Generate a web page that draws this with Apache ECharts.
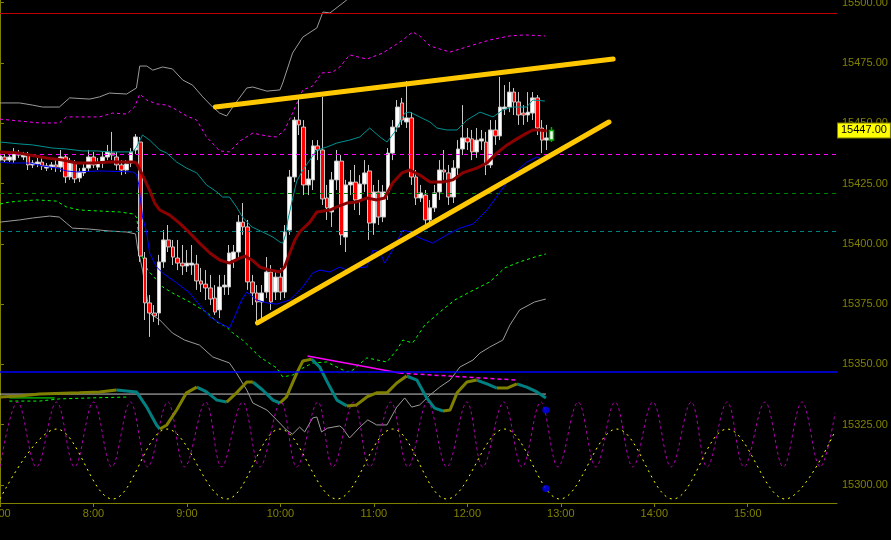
<!DOCTYPE html>
<html><head><meta charset="utf-8">
<script src="https://cdn.jsdelivr.net/npm/echarts@6.0.0/dist/echarts.min.js"></script>
<style>html,body{margin:0;padding:0;background:#000;}#c{width:891px;height:540px;}</style>
</head><body><div id="c"></div>
<script>
// x values are 3-minute bar indices counted from 7:00
const hourTicks = [0, 20, 40, 60, 80, 100, 120, 140, 160];
const hourLabels = ['7:00', '8:00', '9:00', '10:00', '11:00', '12:00', '13:00', '14:00', '15:00'];
const priceTicks = [15300, 15325, 15350, 15375, 15400, 15425, 15450, 15475, 15500];

// [open, close, low, high] for each 3-minute bar from 7:00
const ohlc = [
[15434.7,15436.4,15433.5,15437.6],[15436.0,15434.7,15433.5,15437.2],[15434.7,15436.0,15433.9,15437.6],[15434.7,15437.6,15433.5,15439.7],
[15437.6,15436.8,15435.6,15438.9],[15436.0,15436.8,15434.7,15438.1],[15436.8,15432.7,15430.6,15438.1],[15432.7,15433.5,15431.4,15434.7],
[15433.1,15433.9,15431.8,15435.6],[15433.9,15432.3,15430.6,15436.0],[15431.4,15432.3,15430.2,15433.5],[15431.8,15432.7,15430.6,15433.9],
[15432.7,15431.8,15429.8,15434.7],[15431.8,15436.0,15429.8,15438.9],[15436.0,15427.7,15425.2,15437.2],[15427.7,15433.5,15426.5,15435.6],
[15433.5,15426.9,15425.2,15434.7],[15427.3,15429.8,15425.6,15431.4],[15429.4,15431.4,15428.1,15433.5],[15431.4,15436.0,15429.8,15438.9],
[15436.0,15432.7,15431.4,15438.1],[15431.8,15433.5,15430.6,15435.6],[15433.5,15436.0,15431.4,15438.1],[15436.0,15438.1,15434.7,15441.0],
[15437.6,15436.8,15434.7,15446.4],[15436.0,15432.7,15430.6,15438.1],[15432.7,15430.6,15428.5,15434.7],[15430.6,15433.1,15428.9,15434.7],
[15433.5,15438.1,15431.8,15439.7],[15438.9,15444.3,15437.2,15445.5],[15442.2,15394.9,15392.5,15444.3],[15394.1,15375.5,15368.4,15396.6],
[15375.5,15371.3,15361.4,15378.8],[15371.3,15370.1,15367.6,15374.6],[15371.3,15392.5,15366.3,15395.4],[15392.5,15401.6,15390.0,15405.7],
[15401.6,15398.7,15396.6,15407.8],[15398.7,15394.5,15391.2,15401.6],[15394.1,15392.0,15389.1,15401.6],[15392.0,15390.8,15387.1,15399.5],
[15390.8,15392.0,15388.3,15397.4],[15391.2,15392.0,15387.1,15399.5],[15391.6,15384.6,15380.9,15395.4],[15384.6,15383.3,15380.0,15390.0],
[15383.3,15381.7,15376.7,15389.1],[15381.7,15377.1,15374.6,15387.1],[15377.5,15371.7,15370.5,15382.9],[15372.6,15382.1,15369.2,15387.1],
[15382.1,15382.9,15378.8,15387.1],[15382.1,15396.2,15378.8,15399.5],[15393.3,15396.6,15390.0,15399.5],[15396.6,15409.0,15394.1,15411.9],
[15409.0,15407.0,15403.7,15416.9],[15407.0,15384.2,15380.9,15409.9],[15384.2,15379.6,15374.6,15387.1],[15379.6,15375.9,15366.3,15382.9],
[15375.9,15379.6,15368.4,15382.9],[15380.0,15388.3,15377.5,15394.5],[15388.3,15375.9,15372.6,15391.2],[15380.0,15386.2,15376.7,15389.1],
[15386.2,15380.0,15376.7,15390.0],[15380.0,15404.9,15377.5,15407.8],[15405.7,15427.7,15403.7,15430.6],[15427.7,15451.3,15425.6,15452.6],
[15451.3,15449.3,15445.1,15461.3],[15448.4,15424.4,15420.2,15451.3],[15424.4,15426.9,15420.2,15430.6],[15426.5,15440.6,15422.3,15443.0],
[15440.6,15438.9,15434.7,15443.0],[15438.9,15418.6,15416.1,15460.9],[15419.0,15414.9,15409.9,15424.4],[15413.2,15426.5,15407.0,15429.8],
[15426.5,15434.3,15422.3,15438.9],[15434.3,15403.7,15399.5,15436.8],[15402.8,15424.4,15396.6,15426.5],[15424.4,15425.6,15420.2,15430.6],
[15425.6,15418.2,15414.0,15432.7],[15418.2,15424.8,15411.9,15428.5],[15424.8,15429.4,15421.5,15434.7],[15430.2,15408.6,15401.6,15432.7],
[15408.6,15421.5,15403.7,15424.4],[15421.5,15411.1,15407.8,15426.5],[15411.1,15421.5,15409.0,15424.4],[15421.5,15437.6,15418.2,15439.7],
[15437.6,15448.4,15434.7,15451.3],[15448.4,15456.7,15446.4,15459.6],[15458.4,15451.3,15449.3,15460.5],[15450.5,15452.2,15448.0,15467.5],
[15452.2,15427.7,15424.4,15454.6],[15427.7,15419.0,15416.1,15430.6],[15419.0,15421.1,15417.3,15424.4],[15420.2,15409.9,15407.8,15422.3],
[15409.9,15414.9,15407.8,15418.2],[15414.9,15421.1,15413.2,15424.4],[15421.5,15430.6,15418.2,15434.7],[15430.6,15429.8,15426.5,15438.9],
[15429.4,15419.4,15416.1,15432.7],[15419.4,15431.4,15416.9,15434.7],[15431.4,15439.3,15428.5,15443.0],[15439.3,15443.9,15436.8,15457.5],
[15443.9,15442.2,15438.9,15448.0],[15443.5,15438.1,15434.7,15447.2],[15438.1,15443.0,15435.6,15448.0],[15442.6,15443.5,15438.9,15447.2],
[15442.2,15432.7,15428.5,15446.4],[15432.7,15447.2,15431.4,15451.3],[15447.2,15444.7,15441.0,15451.3],[15444.7,15456.7,15443.0,15469.2],
[15455.9,15456.7,15453.4,15465.8],[15456.7,15462.9,15454.6,15467.1],[15462.9,15458.8,15453.4,15464.6],[15458.8,15453.4,15449.3,15462.9],
[15454.2,15453.4,15449.3,15457.5],[15453.4,15454.6,15450.5,15462.9],[15454.2,15460.5,15451.3,15462.9],[15460.5,15448.0,15445.1,15461.7],
[15448.0,15443.0,15437.6,15451.3],[15443.0,15443.9,15438.9,15449.3],[15443.0,15447.0,15442.2,15448.4]
];

// envelope / band lines  [bar index, price]
const grayUpper = [[0,15458.4],[4.2,15458.4],[7,15457.5],[9.1,15456.7],[12.7,15456.7],[14.9,15460.5],[19.2,15460.0],[21.3,15460.9],[23.4,15462.5],[27.1,15462.1],[29.2,15464.6],[29.9,15473.7],[31.4,15473.7],[32.7,15472.0],[34.8,15473.3],[36.9,15472.5],[39.1,15467.9],[41.2,15465.8],[43.4,15460.9],[45.5,15456.7],[47,15454.2],[48.5,15453.0],[49.8,15456.7],[52.8,15464.6],[54.1,15465.0],[57.1,15463.3],[59.9,15463.8],[60.5,15466.7],[62.6,15479.1],[64.8,15485.7],[67.8,15489.5],[69.1,15496.1],[70.6,15495.7],[74.2,15501.1],[77,15505.2]];
const grayLower = [[0,15409.0],[4.2,15409.9],[7,15410.7],[10.6,15411.5],[12.7,15411.1],[14.2,15408.6],[15.5,15406.5],[19.2,15406.1],[23.4,15405.3],[27.1,15404.9],[29,15404.1],[29.4,15398.7],[30.5,15389.1],[32,15371.3],[34.2,15368.4],[34.8,15367.2],[36.9,15363.0],[39.5,15360.1],[42.7,15358.0],[45.5,15353.1],[49.1,15350.6],[50.6,15346.4],[52.8,15339.4],[54.1,15334.0],[57.1,15331.1],[59.2,15327.0],[61.3,15322.8],[62.6,15321.1],[64.1,15324.0],[65.2,15322.0],[66.9,15327.8],[67.8,15328.2],[68.8,15322.0],[70.1,15323.6],[72.7,15324.5],[73.3,15323.6],[74.8,15319.5],[77,15324.0],[78.7,15327.0],[80.6,15324.9],[82.8,15324.9],[84.9,15332.3],[86.6,15336.1],[88.1,15332.3],[89.8,15333.2],[92,15337.3],[94.1,15340.6],[96.3,15343.5],[98.4,15348.9],[101.2,15351.8],[102.7,15354.7],[104.8,15357.2],[107.6,15360.1],[109.1,15366.3],[111.2,15372.6],[114.4,15375.9],[116.8,15377.1]];
const magentaUpper = [[0,15451.7],[8.5,15450.1],[12.7,15450.1],[14.2,15452.6],[21.3,15452.6],[24.1,15454.2],[27.1,15453.8],[28.8,15456.7],[29.9,15462.1],[31.4,15459.6],[33.5,15458.0],[35.7,15457.5],[37.8,15455.5],[39.9,15453.0],[42.1,15451.3],[44.2,15444.3],[47,15438.5],[49.1,15438.1],[51.3,15442.6],[54.1,15445.9],[57.1,15444.7],[59.2,15444.3],[60.9,15447.2],[62.6,15454.2],[64.8,15463.8],[66.9,15465.4],[68.8,15470.8],[71.2,15471.2],[72.7,15473.3],[74.8,15478.3],[78.5,15476.6],[81.9,15479.1],[84.9,15482.8],[86.2,15484.5],[88.3,15487.8],[89.8,15486.2],[92,15482.0],[96.3,15479.5],[100.5,15482.0],[104.8,15484.5],[109.1,15486.2],[112.3,15486.6],[116.6,15486.2]];
const greenLower = [[0,15416.5],[2,15417.3],[4.2,15417.7],[7.8,15418.2],[12.1,15417.7],[14.2,15415.3],[17,15414.0],[21.3,15413.6],[25.6,15413.2],[28.4,15412.4],[29.2,15411.1],[29.4,15408.6],[29.9,15398.7],[30.5,15394.5],[31.6,15389.1],[33.5,15385.0],[34.8,15382.1],[36.9,15379.6],[40.6,15375.9],[42.7,15373.4],[44.2,15371.7],[46.4,15367.6],[48.5,15365.5],[49.8,15363.0],[51.9,15360.1],[55.6,15353.1],[59.2,15348.5],[60.5,15344.8],[62.6,15345.6],[64.8,15348.5],[66.9,15350.6],[69.9,15351.0],[74.2,15346.9],[75.5,15347.7],[78.5,15352.7],[82.8,15351.0],[84.9,15356.0],[86.2,15360.1],[88.3,15358.9],[90.9,15366.3],[94.1,15371.7],[97.3,15376.7],[100.5,15380.0],[104.8,15384.2],[108,15390.0],[111.2,15392.5],[114.4,15394.5],[116.8,15395.8]];
const tealLine = [[0,15442.2],[4.2,15441.4],[7,15441.0],[11.2,15439.7],[14.2,15439.3],[17.7,15438.5],[20.7,15438.5],[23.4,15438.1],[28.4,15438.1],[29.2,15440.1],[30.5,15445.1],[32,15443.0],[34.2,15438.9],[35.7,15437.6],[37.8,15433.9],[39.9,15431.4],[42.1,15429.4],[44.2,15424.4],[46.4,15421.5],[47.6,15419.4],[49.1,15419.4],[50.6,15415.3],[51.9,15411.1],[53.9,15407.0],[56.2,15404.9],[58.4,15402.8],[59.9,15400.7],[60.5,15400.3],[61.1,15403.7],[61.6,15409.9],[62.4,15416.9],[63.5,15426.0],[64.8,15430.6],[66.3,15434.7],[67.8,15438.9],[69.9,15440.1],[72.1,15441.8],[74.8,15443.0],[77,15444.3],[79.1,15448.0],[81.3,15444.3],[82.8,15442.2],[84.5,15446.4],[86.6,15454.2],[87.7,15454.6],[89.8,15452.6],[92,15450.5],[93.5,15448.0],[95.6,15447.2],[97.8,15447.2],[99.9,15451.3],[102.7,15454.6],[105.5,15452.6],[107.6,15455.5],[109.7,15456.7],[112.7,15456.7],[114,15459.6],[116.6,15459.2]];
const redMA = [[0,15438.1],[4.2,15437.6],[6.3,15436.8],[10,15435.6],[13.4,15434.7],[16.4,15433.5],[19.8,15433.5],[23.4,15433.9],[28.4,15433.9],[29.2,15433.5],[30.5,15428.5],[32,15422.3],[33.1,15416.9],[34.2,15414.0],[36.3,15411.9],[38.4,15408.6],[40.6,15404.5],[42.7,15400.3],[44.9,15396.2],[47,15393.3],[49.1,15392.0],[51.3,15394.1],[52.4,15394.9],[53.9,15393.3],[55.6,15390.4],[57.7,15389.1],[59.9,15388.3],[60.9,15390.4],[62,15396.2],[63.1,15401.6],[64.1,15404.9],[66.3,15409.0],[67.8,15413.2],[70.6,15414.0],[72.1,15415.3],[74.2,15416.9],[76.3,15417.3],[78.5,15419.0],[80.6,15418.2],[82.3,15419.0],[84,15425.2],[86,15429.4],[87.7,15430.6],[89.8,15428.5],[92,15425.6],[94.8,15425.6],[96.9,15426.5],[99,15429.4],[102,15431.4],[104.2,15433.5],[106.3,15437.6],[108.5,15441.0],[110.6,15443.5],[112.7,15445.9],[114,15447.2],[115.5,15447.2],[117,15446.8]];
const blueLine = [[0,15433.9],[2,15433.5],[6.3,15433.5],[9.1,15432.3],[12.1,15431.4],[14.2,15430.2],[16.4,15429.8],[21.3,15430.2],[28.4,15429.8],[29.2,15428.9],[29.7,15424.4],[30.5,15411.1],[31.4,15404.5],[32,15396.2],[33.5,15390.4],[34.8,15387.9],[37.8,15383.8],[40.6,15379.6],[42.7,15374.6],[44.9,15369.7],[47,15367.2],[49.1,15365.1],[50.2,15369.7],[51.7,15376.7],[52.8,15380.0],[54.9,15376.7],[57.1,15375.5],[59.2,15375.0],[62,15376.7],[64.8,15382.1],[66.9,15387.9],[68.4,15389.1],[70.6,15388.3],[72.7,15390.4],[74.2,15389.1],[76.3,15390.0],[78.5,15390.4],[79.8,15397.4],[81.3,15396.6],[82.3,15392.0],[84,15397.4],[86.2,15405.7],[87.7,15404.9],[89.8,15402.4],[92.6,15400.3],[95.6,15403.7],[98.4,15406.5],[101.2,15408.2],[104.2,15414.0],[107,15421.5],[109.7,15428.5],[112.7,15433.9],[114.9,15436.0],[116.6,15434.3]];

// oscillator panel (drawn on the same price scale)
const oscLine = [[0,15336.5],[4.2,15336.9],[8.5,15337.7],[17,15338.2],[21.3,15338.6],[24.9,15339.4],[29.2,15338.6],[31.4,15332.3],[33.5,15324.9],[34.2,15323.2],[35.7,15324.9],[37.8,15331.1],[39.9,15338.2],[42.1,15340.6],[44.2,15338.6],[46.4,15335.2],[48.5,15334.4],[50.6,15338.2],[52.8,15342.7],[54.1,15342.7],[56.2,15339.4],[58.4,15335.2],[59.9,15334.0],[61.3,15336.5],[63.5,15346.4],[64.8,15351.4],[66.7,15352.2],[68.4,15348.9],[70.6,15340.6],[72.1,15335.2],[74.2,15332.8],[76.3,15333.2],[78.5,15336.5],[80.6,15338.2],[82.8,15338.2],[84.9,15342.3],[87,15345.2],[89.2,15343.5],[91.3,15336.1],[93,15331.9],[94.8,15330.7],[96.3,15331.1],[97.8,15338.2],[99.9,15342.7],[102,15343.5],[104.2,15341.9],[106.3,15340.2],[108.5,15340.2],[110.6,15341.9],[112.7,15340.6],[114.9,15338.6],[116.8,15336.1]];
const grayLevel = [[0,15337.7],[116.8,15337.7]];
const magentaTrend = [[65.8,15353.5],[85.5,15346.4]];
const magentaTrendDash = [[85.5,15346.4],[110.6,15343.5]];
const greenShortSolid = [[2,15336.1],[11.7,15336.1]];
const greenShortDash = [[2,15334.8],[8.5,15334.8],[12.7,15335.7],[19.2,15336.1],[27.7,15336.5]];
const fastCycle = [[0,15307.5],[3.75,15334.4],[7.8,15307.5],[12.1,15334.4],[15.95,15307.5],[20,15334.4],[23.9,15307.5],[27.9,15334.4],[31.6,15307.5],[35.9,15334.4],[39.5,15307.5],[44,15334.4],[47.4,15307.5],[51.9,15334.4],[55.6,15307.5],[60.1,15334.4],[63.5,15307.5],[68,15334.4],[71.2,15307.5],[75.7,15334.4],[79.1,15307.5],[83.6,15334.4],[87.3,15307.5],[91.5,15334.4],[95.6,15307.5],[99.9,15334.4],[103.3,15307.5],[107.8,15334.4],[111.7,15307.5],[115.7,15334.4],[119.4,15307.5],[123.7,15334.4],[127.5,15307.5],[131.6,15334.4],[135.4,15307.5],[139.7,15334.4],[143.6,15307.5],[147.9,15334.4],[151.3,15307.5],[155.6,15334.4],[159.2,15307.5],[163.7,15334.4],[167.6,15307.5],[171.6,15334.4],[175.5,15307.5],[178.7,15329.9]];
const slowCycle = [[0,15294.2],[12.1,15323.2],[24.1,15294.2],[35.7,15323.2],[48.5,15294.2],[59.9,15323.2],[72.1,15294.2],[84,15323.2],[95.6,15294.2],[108,15323.2],[119.8,15294.2],[132,15323.2],[144,15294.2],[155.6,15323.2],[168,15294.2],[178.7,15322.4]];
const cycleDots = [[116.8,15331.1],[116.8,15298.6]];

// levels
const levelRed = 15495.7, levelMagenta = 15437.2, levelGreen = 15421.0, levelTeal = 15405.3, levelBlue = 15346.8;

// hand-drawn trend lines (gold)
const trendUpper = [[46.1,15456.7],[131.2,15476.6]];
const trendLower = [[55.1,15367.2],[130.3,15450.5]];

// count marks
const marks = [
  {v:[17.7,15422.7], t:'8*', c:'#0000ff'},
  {v:[38.7,15386.0], t:'9', c:'#0000ff'},
  {v:[43.8,15371.7], t:'5', c:'#808000'},
  {v:[57.7,15363.2], t:'9', c:'#0000ff'},
  {v:[97.8,15446.2], t:'9', c:'#c00000'},
  {v:[115.7,15432.7], t:'1', c:'#0000ff'}
];

const FONT = '"Liberation Sans", Arial, sans-serif';
const AX = '#808000';

function splitDir(pts, rising) {
  const out = []; let open = false;
  for (let i = 0; i < pts.length - 1; i++) {
    const up = pts[i + 1][1] >= pts[i][1];
    if (up === rising) {
      if (!open) { if (out.length) out.push([pts[i][0], '-']); out.push(pts[i]); open = true; }
      out.push(pts[i + 1]);
    } else open = false;
  }
  return out;
}

const candleData = ohlc.map((d, i) => {
  const item = { value: [i, d[0], d[1], d[2], d[3]] };
  if (i === ohlc.length - 1) item.itemStyle = { color: '#ffffff', borderColor: '#00b000', borderWidth: 1.5 };
  return item;
});
const lastClose = ohlc[ohlc.length - 1][1];

function ln(name, data, color, width, type, z, extra) {
  return Object.assign({ name, type: 'line', data, symbol: 'none', silent: true, animation: false, z: z || 4,
    lineStyle: { color, width, type: type || 'solid' } }, extra || {});
}

const chart = echarts.init(document.getElementById('c'), null, { renderer: 'canvas' });
chart.setOption({
  backgroundColor: '#000000',
  animation: false,
  grid: { left: 0, right: 54, top: 0, bottom: 37, containLabel: false, outerBoundsMode: 'none' },
  xAxis: {
    type: 'value', min: 0, max: 179.1,
    axisLine: { show: true, lineStyle: { color: AX, width: 1 } },
    axisTick: { show: true, length: 4, lineStyle: { color: AX }, customValues: hourTicks },
    axisLabel: { color: AX, fontFamily: FONT, fontSize: 11, margin: 5, customValues: hourTicks, hideOverlap: false,
      formatter: v => hourLabels[hourTicks.indexOf(v)] || '' },
    splitLine: { show: false }
  },
  yAxis: {
    type: 'value', position: 'right', min: 15292.54, max: 15501.08, scale: true,
    axisLine: { show: true, lineStyle: { color: AX, width: 1 } },
    axisTick: { show: true, length: 4, lineStyle: { color: AX }, customValues: priceTicks },
    axisLabel: { color: AX, fontFamily: FONT, fontSize: 11, margin: 5, customValues: priceTicks,
      formatter: v => v.toFixed(2) },
    splitLine: { show: false }
  },
  series: [
    ln('levels', grayLevel, '#c8c8c8', 1, 'solid', 1, {
      markLine: { silent: true, symbol: 'none', animation: false, label: { show: false },
        data: [
          { yAxis: levelRed, lineStyle: { color: '#c00000', width: 1, type: 'solid' } },
          { yAxis: levelMagenta, lineStyle: { color: '#ff00ff', width: 1, type: [4, 4] } },
          { yAxis: levelGreen, lineStyle: { color: '#008000', width: 1, type: [4, 4] } },
          { yAxis: levelTeal, lineStyle: { color: '#008080', width: 1, type: [4, 4] } },
          { yAxis: levelBlue, lineStyle: { color: '#0000ff', width: 1.5, type: 'solid' } }
        ] }
    }),
    ln('grayUpper', grayUpper, '#9a9a9a', 1, 'solid', 2),
    ln('grayLower', grayLower, '#9a9a9a', 1, 'solid', 2),
    ln('magentaUpper', magentaUpper, '#ff00ff', 1, [3, 3], 2),
    ln('greenLower', greenLower, '#00ff00', 1, [3, 3], 2),
    ln('fastCycle', fastCycle, '#b000b0', 1, [3, 3], 2, { smooth: 0.37 }),
    ln('slowCycle', slowCycle, '#ffff00', 1, [2, 4], 2, { smooth: 0.37 }),
    ln('greenShortDash', greenShortDash, '#00ff00', 1, [3, 3], 2),
    ln('greenShortSolid', greenShortSolid, '#00ff00', 1, 'solid', 2),
    ln('magentaTrend', magentaTrend, '#ff00ff', 1.5, 'solid', 3),
    ln('magentaTrendDash', magentaTrendDash, '#ff00ff', 1.5, [4, 3], 3),
    ln('oscDown', splitDir(oscLine, false), '#008080', 3, 'solid', 3),
    ln('oscUp', splitDir(oscLine, true), '#808000', 3, 'solid', 3),
    {
      name: 'price', type: 'candlestick', data: candleData, z: 3, barWidth: 4.2, silent: true, animation: false,
      encode: { x: 0, y: [1, 2, 3, 4] },
      itemStyle: { color: '#ffffff', color0: '#ff0000', borderColor: '#c8c8c8', borderColor0: '#c8c8c8', borderWidth: 1 }
    },
    ln('tealLine', tealLine, '#009090', 1, 'solid', 5),
    ln('blueLine', blueLine, '#0000ff', 1, 'solid', 5),
    ln('redMA', redMA, '#8b0000', 3, 'solid', 5),
    ln('trendUpper', trendUpper, '#ffc800', 5, 'solid', 8, { lineStyle: { color: '#ffc800', width: 5, cap: 'round' } }),
    ln('trendLower', trendLower, '#ffc800', 5, 'solid', 8, { lineStyle: { color: '#ffc800', width: 5, cap: 'round' },
      markLine: { silent: true, symbol: 'none', animation: false,
        data: [{ yAxis: lastClose, lineStyle: { color: 'rgba(0,0,0,0)', width: 0 },
          label: { show: true, position: 'end', distance: 1, formatter: lastClose.toFixed(2),
            backgroundColor: '#ffff00', color: '#000000', borderColor: '#808000', borderWidth: 1,
            padding: [2, 3, 1, 3], fontFamily: FONT, fontSize: 11 } }] } }),
    {
      name: 'marks', type: 'scatter', z: 9, silent: true, animation: false, symbolSize: 1,
      itemStyle: { opacity: 0 },
      data: marks.map(m => ({ value: m.v, label: { show: true, position: 'inside', formatter: m.t, color: m.c,
        fontFamily: FONT, fontSize: 13 } }))
    },
    {
      name: 'cycleDots', type: 'scatter', z: 9, silent: true, animation: false, symbol: 'circle', symbolSize: 7,
      itemStyle: { color: '#0000ff', borderWidth: 0 }, data: cycleDots
    }
  ]
});
</script>
</body></html>
